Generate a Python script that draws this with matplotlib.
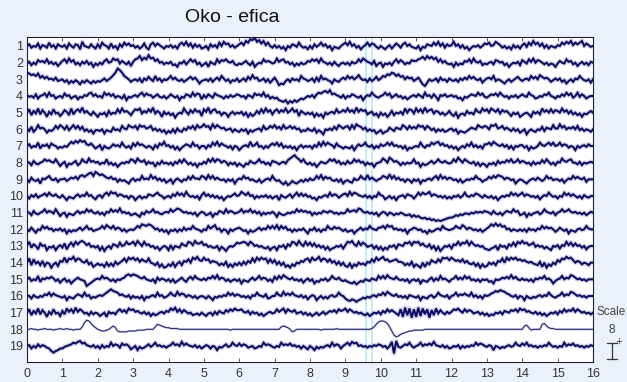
import numpy as np
import matplotlib
matplotlib.use('agg')
import matplotlib.pyplot as plt
from matplotlib.lines import Line2D

###########################################################
# data
###########################################################

title = 'Oko - efica'
channel_labels = [str(i) for i in range(1, 20)]
x_ticks = list(range(0, 17))
duration = 16.0
marker_times = [9.58, 9.75]
scale_value = 8

# one string per channel, 16 samples per second (groups split by spaces).
# letters are packed amplitudes : 'm' is the baseline, each step = 0.05 of channel spacing
STEP = 0.05
traces = [
    # 1
    "mokmlpjnmkqlnjom lnjpmkonirmlkolj okqnmjpkmiolqnpm nkmjlpkioqmpnljm lnkmjoqnrmpkolnj kmiolnkqmroplnkm "
    "oqnsqutwrtpsnqmk nkmjlhmkonlqmkli mjolnqmokmhlkjmo qnrmokmilnqmpolj mkilnjmpnkoqmolk jmhlkonmqnrmpkom "
    "nrmoknjlhkmlnkmp oqmnrpnkmjlinkmj nplqnsoqmpknjmlk nmqorpsnqoqsmpnl m",
    # 2
    "lnjmkpnomqlnkmil oqmrnpkmjnlokmhl jmkoqmnrpqlomkni nqrupsqvrsoqmnkm lnjkhmloknqnpkmi kmhnlkqmpoqnmokj "
    "lkmoljnhkmlqnonl mrnpqmnkmiljmklo nqoqmrnmkmjnkilm kmjnlmqnrpnmkoil mhlkmjnqmpnkmlpo oqrtqurtqsnqmolk "
    "lhmjlkonqmrnmojl kmnkpomnjlhkmlnj pnlqnrmpomkmjlkh lomlqnokmilnkmjn m",
    # 3
    "utrsqtoqnpmnlokl mjlhkiljgkiljhki kjlnkmoruzxuqomj lmkninlpmkqlnjml nqmolkmjlnpmolhk lmknjmolqnkmilkn "
    "jlnkpmrnoklnjmil okfhgkmjnlmkqnmk lnjokqmnlkhmkjmo mqnpmornlmjnkmpl nqpsrutqspqmpnok mokgeimklnjolmjn "
    "lkmjnlomqnpmlnil nomqkmljhkmjlnpm kmnlqnpmrpnomjln lnjlhkmjnmqnlkmi m",
    # 4
    "nlmkojmnplqmnjlm kpmnjlmilknmpqmo lmkqnpmokmljnhlk mnloqmpnnkmolkmj lomkmhlkonlqmpoi nkomkpnmljmknlmo "
    "nlmjnmkpnomqlnjl jkhgfhdgehfhjikm lnkoqprsqtopnmkn jmlonlkmhlnmqnlk mnqnpkmolmjlikmn lomkqmnkolhnmolm "
    "nlmjkhlkmonmqnpl kmonpmqnlmjmlnkm omlqnmjkmlonqmlj mlomqnpkmqlomjlm m",
    # 5
    "mqjolrkpmhnkqlmi lpnjrkoqnsmoljnk hlkmiokmlqmrnomj nqprlomqnslomhnk mjlgkmlrnkpmqnoi qnslpqmnjmlhlnkm "
    "lnjmhlikolqmrnpk oqmpnrmornpiomkm kmhlikgmkmnlqmnp nrnpmsnqopkmnjlh mjlhkojmlnkrmqpl rnqmsnpqlonkmjlo "
    "kimgkljolmkqnmro qmrpnqlpnolimkmh jlmkhnlnkrnpmqmp omrnplokmjlhlkmo m",
    # 6
    "nkpjmrnomilkmqnr pmqlornqmpkmjlhl lkmhlkjolmkqnmrp oqmrpqnoqlnkmjlh kiminkjnlpnqmrop spqmsorpnolmnjmk "
    "jmkmhljlmnkqmnqo rnpmrnoqnpmnjlkn lkniljgmlnlpmrpn pqmrnsqpmokmklhj lhjkomkonmrpmqnp nrpqmqolnjmkmjkm "
    "nkmhkjikmonmrpoq pmrqsnoqmomknkmi kmgkmkjmlpkonmrn nsoqmonpmqlnkmlj m",
    # 7
    "mokmlqjnmokpnmjl kmlorpsqtrsonpmj lnhmkjlomnlqmkmj pmqnomkmlinkpnrm nkmilhkmonlqmnjm mjnlqnrmpnmkmiml "
    "hkmnlrmnqlmjmknp nqmpkmkmjlhlnkml mjnlqmrnqonkpmlj lkjmhlomnqmlnjmk omnqnqmnlmjmhkjl mlqmknmqoqrnpmnk "
    "mjlhkmkomqlnkmjo oqnrpnmolnjmimln nkmhljkmqnmoqnqm nqmonkmlhmkmnlom m",
    # 8
    "nmjolkmnqopnmqmi lnhlkmojlqnmrnom nkmlqkmjlhkmlnmq pmronpknlmhmkolm kmjnlpmqnkmjlhlk nlqnrnqpmonjmkmi "
    "ljhlkomlnqmnkmjo nmkmnlprtvsqnqmk mjlhknmlnqoqmokm kolmqnpmnjmklhlm nrpmsqnomjmkmlmq lmhljkmolnqnmoml "
    "mqnspmqomlnjmilk hlkmjolnmpnqmnqm onlmjnkmlpmqnkmj nmronpqmmknjmlmn m",
    # 9
    "mjolkmhnmoqmlnjm mnkmonpmqrprtuqv trsqonpmnjmkljhl nkmlqmnmrnplnkmi kmhlnljmlpmqnnmq pmrnqmomlmjmkmhl "
    "nmqnolmkjmikmnlq mkligjfhkihjljmk nlmqnrmpnolkmjmh kljinlmqnmrmomkm nqpnsnqmolmjmlim kmhlkmnloqmrnpmo "
    "nlmjmikmlnmqnmjl mpnqorqpmonlmhkm ljhkmnlomkmqnolm mkmilnmqnpnmojmm m",
    # 10
    "mjnlokmnpmqnmolk nkhlkjmolnmqmnki mnkoqnrpqmonlmjm lhkmjlkonmoqnmjl mkomqnpmrnlmkmin qmolnkmjlhkmlnpm "
    "nrpnqmnjmkmlnkmj lmhnlkmoknqmpmol mjkhlkmnlqmonkmo pmrnqpnmlnkmjmlq nmikmjlhlmnkonmj mqnqoprmonlmkmjl "
    "jmlnkmqmlnmpomkn lkmjlhkmlnmqnpmo qmonlmkmilnmqnlm jmlqnpmomkmjnlkm m",
    # 11
    "nmjolkmnqmonlqmi lmhlkjmolnmqnpml nkmjnmqnpnrmnlmj kljhmkomnqmnlkmn mqnprqomnlmkmiln mjkmhlkonlqmonlm "
    "nqmonqmolnjmkmln lhmkjkmlnmqnpnom njmkmlonmonlmkml mqnopnrqnmnlmkmi lnmjmljlkmljjkhj higfgefdecdcdefg "
    "ghjikjllkmlnmnmo nmkolkmjmonmqnoj kmhljlmnkmqnmlnj mnqnoqnmnlmkmjln m",
    # 12
    "mkolimlqnpmnkmln kmhljlkmolnqmnkl mnqnrpnqmonkmjlm lnqosrqsrpmnkmjl hlkmjmkolnmqnmlj mlqnprmnjmlhmkmn "
    "omklhljkmolnmqnq nrmqnplmjmkmlnkh mlokmjmlqnmpnomk mjklhkmolnmqnmlo oqnrpqmnlmkmhlmo nlmjkhljkmnlqnml "
    "mnqonrpmonlmkmjl npsqtqspqmnkmlkm kmjnlmknmqnpnomj lomkmhlkjmnlmqnm m",
    # 13
    "nrkomipmnhlkmhln kpinqmrorsqnplmk mhlgkmjonlqmnrop rnspmrnolmjlhkml hnimlkpnmrqnsppr nolmkkmhljgkmlnq "
    "pqrqnrpmnlmkjlhk lhmlnjomrqnsomrn qmplnkmilhjkmlnj nrqsomrnqolmnjmi lhkimlnjonmqprnr qrnpmlojmhlgjmln "
    "jonrnqpsnromnlmj ihjkmhnlmjomqmrp spqnoqlnlmjljhml njnmrnqmpmnkmilm m",
    # 14
    "mrjqlnjoimlgkmio nsmrqtorqnmpkmhj ljkhmilinkmornsq sprnqonrmljmhkgh kimhlnjonqmsqtpo spqmonmjljnhkhlj "
    "mjnkomrnspsqrmqm pknjmhjgkimlonqr nspqtorqnqmoknjm ihlgkimkljnmqnsp rtpqnopqnnmjljnh kigmhmkpnmqnsrsp "
    "sqopnqmolkmilgkh imkmjonrmspsqspq opnmnlkjnhmgkimk pnrqtrspmonkmljm m",
    # 15
    "mokmlqjnmonpnkmi lnjlhkmomlkegikm nmqnomkmjmlnorsq srqonpmlkmiolnmk mjmikmoljnpmqnml nlonqnrmonkmjlmk "
    "mhlkjmolnqmonkmj pmqnrpnmolmkmiln kmhkjmlnkmqnmolk ljihjgikjmlknmlq nqnronmpmlmkmilm kmhlkjmoknlqmnlj "
    "mnqmomqnplmkmjml mjkhmlmonpnrnpml nlmkmjnmonqmnlhk mnqmonrqomnlmkmm m",
    # 16
    "nmjnlkmlonqmpnml kmhlkjmonlqmnjlk mnmoqsusrqnomlnj mkljmhlkmnlqmnkl nqnmrnpolnmkmjlm ljmkhlkmlnmqnpmo "
    "nlmkmjnmqnmlojkm mqnmrnpnqnmlnkmi lnmhkmjljmnlmqnm jhgihfhikjlkmnlo nqnrpnmolmkmjnml kmhlkjmnkmqnmlnj "
    "mnqmonpnmqlnkmjn mnpqsrtsrpomlnjm lhmkjlkmnlnmqnlk mnqmonrqomnlmkmm m",
    # 17
    "mqjolrkpmhnkqlmi okrnqmsnqolmjnkm likmhnlmkoqnpmrp qnomlnkmiljkmnlo nrpsnqmpnlmjkljm kilmjnkomlpnqorp "
    "pqnmoknlmjlikmnl mqnprmqonplmnkmj likmjlnkmonpmqop rnqomnlmkjlikmln komqnpnljqhsjrgq hsirkqgpjrlpmknl "
    "nqpromqnpolmnkmj likjmlnkonmpoqnr pqnomlnkmjlikmln komqnpornqomnlmk m",
    # 18
    "mmnmmlmmnmmmlmmn mmnmmlmmmpuxwtqo mlkklmoqokjjjjkk kkllllmmmmpsrqpo onnnnmmmmmmmmmmm mmmmmmmmmmmmlmmm "
    "mmmmmmmmmmmmmmmm mmmpqpomjkmmmmmm mmmmmlmmmmmmnmmm mmmmmmmmmmmmnpsv wwvtpkfdeghijkkl llllmmmmmmmmmmmm "
    "mmmmmmmmmmmmmmmm mmmmmmmmmmmmmmmm mqrolmmmmstqonnm mmmmmmmmmmmmmmmm m",
    # 19
    "mnjmkolnmkjgeghj jlmnoqprspqnmlnk mjnkmlqmonkpnomi kmhljkmolnqmnlmk mnqnomrnpnmlnkmj lnmjmlhlkmolmqnm "
    "pmonklmjkmlqnonl kmlqnonpmnlmjmki mkhljlkmnlqmonjm oqnrpqmnlmkmlnmo nlmjmrdslkmonqmk mnqmonpnrnmlnkmj "
    "kmlnjmkmlnmqnpom lnmhmljlkmnlmqnm pnqmnlmkmlnmqnlm kmlqmonpmnlmkmln m",
]

###########################################################
# draw
###########################################################

def unpack(s):
    s = ''.join(s.split())
    return (np.array([ord(c) for c in s]) - ord('m')) * STEP

bg = '#eaf1fb'
trace_color = '#0e0e68'
halo_color = '#7878b4'

fig = plt.figure(figsize=(6.27, 3.82), dpi=100, facecolor=bg)
ax = fig.add_axes([27/627, 20/382, 566/627, 325/382])

for t in marker_times:
    ax.axvline(t, color='#b4eef0', lw=1.2, zorder=1)

for k, s in enumerate(traces):
    v = unpack(s)
    t = np.linspace(0, duration, len(v))
    y = (k + 1) - v
    if k == 17:
        # flat channel, thin line
        ax.plot(t, y, color='#8888c0', lw=1.6, alpha=0.4, zorder=2)
        ax.plot(t, y, color='#2a2a80', lw=0.8, zorder=3)
    else:
        ax.plot(t, y, color=halo_color, lw=3.4, alpha=0.28, zorder=2,
                solid_joinstyle='round')
        ax.plot(t, y, color=trace_color, lw=1.5, zorder=3,
                solid_joinstyle='miter')

ax.set_xlim(0, duration)
ax.set_ylim(19.96, 0.46)
ax.set_xticks(x_ticks)
ax.set_xticklabels([str(x) for x in x_ticks])
ax.set_yticks(range(1, 20))
ax.set_yticklabels(channel_labels)
ax.tick_params(direction='in', length=3, width=0.6, top=True, right=False,
               labelsize=9, labelcolor='#333333', colors='#444444', pad=4)
ax.tick_params(axis='y', length=0, pad=3)
for sp in ax.spines.values():
    sp.set_linewidth(0.8)
    sp.set_color('#222222')
for lab in ax.get_xticklabels() + ax.get_yticklabels():
    lab.set_family('Liberation Sans')

fig.text(232/627, 1 - 18/382, title, ha='center', va='center',
         fontsize=14, family='Liberation Sans', color='#111111')

# scale marker on the right
fig.text(611/627, 1 - 312/382, 'Scale', ha='center', va='center',
         fontsize=8.5, family='Liberation Sans', color='#444444')
fig.text(612/627, 1 - 330/382, str(scale_value), ha='center', va='center',
         fontsize=8.5, family='Liberation Sans', color='#444444')
xs = 612/627
y0, y1 = 1 - 359/382, 1 - 343/382
cap = 5/627
for line in [
    Line2D([xs, xs], [y0, y1]),
    Line2D([xs - cap, xs + cap], [y0, y0]),
    Line2D([xs - cap, xs + cap], [y1, y1]),
]:
    line.set_color('#333333')
    line.set_linewidth(0.9)
    fig.add_artist(line)
fig.text(619/627, 1 - 342/382, '+', ha='center', va='center',
         fontsize=6, color='#333333')

fig.savefig('out.png', dpi=100, facecolor=bg)
